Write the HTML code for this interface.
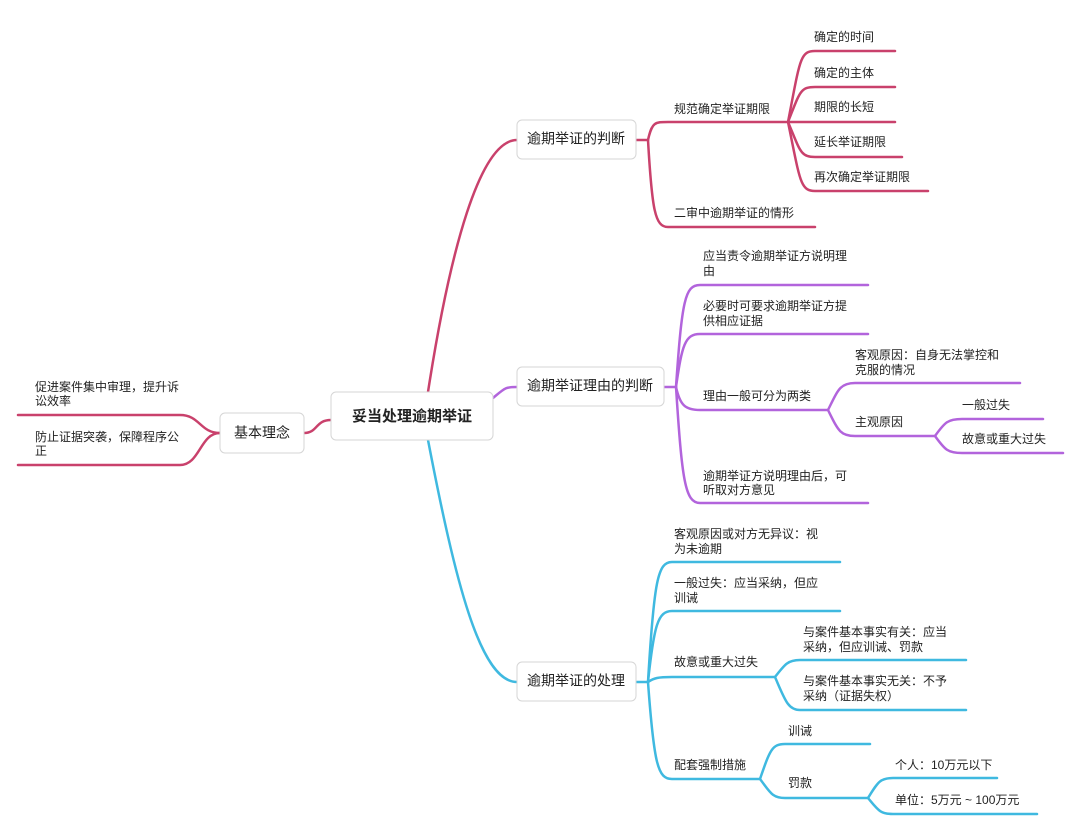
<!DOCTYPE html>
<html><head><meta charset="utf-8"><style>
body{margin:0;background:#fff;}
svg{display:block}
text{font-family:"Liberation Sans","Noto Sans CJK SC",sans-serif;font-size:12px;fill:#222;dominant-baseline:middle}
.r{stroke:#c9416c}.p{stroke:#b264dc}.c{stroke:#3fb9e0}
path{fill:none;stroke-width:2.5;stroke-linecap:round}
rect{fill:#fff;stroke:#d6d6d6;stroke-width:1}
.b{font-size:14px}
</style></head><body>
<svg width="1080" height="831" viewBox="0 0 1080 831">
<!-- main connectors -->
<path class="r" d="M428,392 C450,250 480,140 517,140"/>
<path class="p" d="M493,398 C505,388 505,387 517,387"/>
<path class="c" d="M428,440 C455,580 480,682 517,682"/>
<path class="r" d="M331,420 C315,420 318,433 304,433"/>
<!-- left -->
<path class="r" d="M220,433 C200,433 200,415 180,415 L18,415"/>
<path class="r" d="M220,433 C200,433 200,465 180,465 L18,465"/>
<!-- branch1 -->
<path class="r" d="M636,140 L648,140 C652,122 655,122 668,122 L788,122"/>
<path class="r" d="M648,140 C652,210 655,227 668,227 L815,227"/>
<path class="r" d="M788,122 C800,60 800,51 815,51 L895,51"/>
<path class="r" d="M788,122 C800,92 800,87 815,87 L895,87"/>
<path class="r" d="M788,122 L895,122"/>
<path class="r" d="M788,122 C800,150 800,157 815,157 L902,157"/>
<path class="r" d="M788,122 C800,180 800,191 815,191 L928,191"/>
<!-- branch2 -->
<path class="p" d="M664,387 L676,387 C682,300 685,285 700,285 L868,285"/>
<path class="p" d="M676,387 C682,345 685,334 700,334 L868,334"/>
<path class="p" d="M676,387 C680,405 685,410 700,410 L828,410"/>
<path class="p" d="M676,387 C682,480 685,503 700,503 L868,503"/>
<path class="p" d="M828,410 C838,390 840,383 855,383 L1020,383"/>
<path class="p" d="M828,410 C838,430 840,436 855,436 L935,436"/>
<path class="p" d="M935,436 C945,422 948,419 962,419 L1043,419"/>
<path class="p" d="M935,436 C945,450 948,453 962,453 L1063,453"/>
<!-- branch3 -->
<path class="c" d="M636,682 L648,682 C654,580 658,562 672,562 L840,562"/>
<path class="c" d="M648,682 C654,625 658,611 672,611 L840,611"/>
<path class="c" d="M648,682 C654,678 658,677 672,677 L775,677"/>
<path class="c" d="M648,682 C654,765 658,779 672,779 L760,779"/>
<path class="c" d="M775,677 C785,664 788,660 800,660 L966,660"/>
<path class="c" d="M775,677 C785,700 788,710 800,710 L966,710"/>
<path class="c" d="M760,779 C770,750 772,744 785,744 L870,744"/>
<path class="c" d="M760,779 C770,792 772,798 785,798 L868,798"/>
<path class="c" d="M868,798 C878,782 880,778 893,778 L997,778"/>
<path class="c" d="M868,798 C878,810 880,814 893,814 L1037,814"/>
<!-- boxes -->
<rect x="331" y="392" width="162" height="48" rx="5"/>
<text x="412" y="417" text-anchor="middle" style="font-size:15px;font-weight:bold">妥当处理逾期举证</text>
<rect x="220" y="413" width="84" height="40" rx="5"/>
<text x="262" y="434" text-anchor="middle" class="b">基本理念</text>
<rect x="517" y="120" width="119" height="39" rx="5"/>
<text x="576" y="140" text-anchor="middle" class="b">逾期举证的判断</text>
<rect x="517" y="367" width="147" height="39" rx="5"/>
<text x="590" y="387" text-anchor="middle" class="b">逾期举证理由的判断</text>
<rect x="517" y="662" width="119" height="39" rx="5"/>
<text x="576" y="682" text-anchor="middle" class="b">逾期举证的处理</text>
<!-- left texts -->
<text x="35" y="388">促进案件集中审理，提升诉</text><text x="35" y="402">讼效率</text>
<text x="35" y="438">防止证据突袭，保障程序公</text><text x="35" y="452">正</text>
<!-- b1 texts -->
<text x="674" y="110">规范确定举证期限</text>
<text x="674" y="214">二审中逾期举证的情形</text>
<text x="814" y="38">确定的时间</text>
<text x="814" y="74">确定的主体</text>
<text x="814" y="108">期限的长短</text>
<text x="814" y="143">延长举证期限</text>
<text x="814" y="178">再次确定举证期限</text>
<!-- b2 texts -->
<text x="703" y="257">应当责令逾期举证方说明理</text><text x="703" y="272">由</text>
<text x="703" y="307">必要时可要求逾期举证方提</text><text x="703" y="322">供相应证据</text>
<text x="703" y="397">理由一般可分为两类</text>
<text x="703" y="477">逾期举证方说明理由后，可</text><text x="703" y="491">听取对方意见</text>
<text x="855" y="356">客观原因：自身无法掌控和</text><text x="855" y="371">克服的情况</text>
<text x="855" y="423">主观原因</text>
<text x="962" y="406">一般过失</text>
<text x="962" y="440">故意或重大过失</text>
<!-- b3 texts -->
<text x="674" y="535">客观原因或对方无异议：视</text><text x="674" y="550">为未逾期</text>
<text x="674" y="584">一般过失：应当采纳，但应</text><text x="674" y="599">训诫</text>
<text x="674" y="663">故意或重大过失</text>
<text x="674" y="766">配套强制措施</text>
<text x="803" y="633">与案件基本事实有关：应当</text><text x="803" y="648">采纳，但应训诫、罚款</text>
<text x="803" y="682">与案件基本事实无关：不予</text><text x="803" y="697">采纳（证据失权）</text>
<text x="788" y="732">训诫</text>
<text x="788" y="784">罚款</text>
<text x="895" y="766">个人：10万元以下</text>
<text x="895" y="801">单位：5万元 ~ 100万元</text>
</svg>
</body></html>
